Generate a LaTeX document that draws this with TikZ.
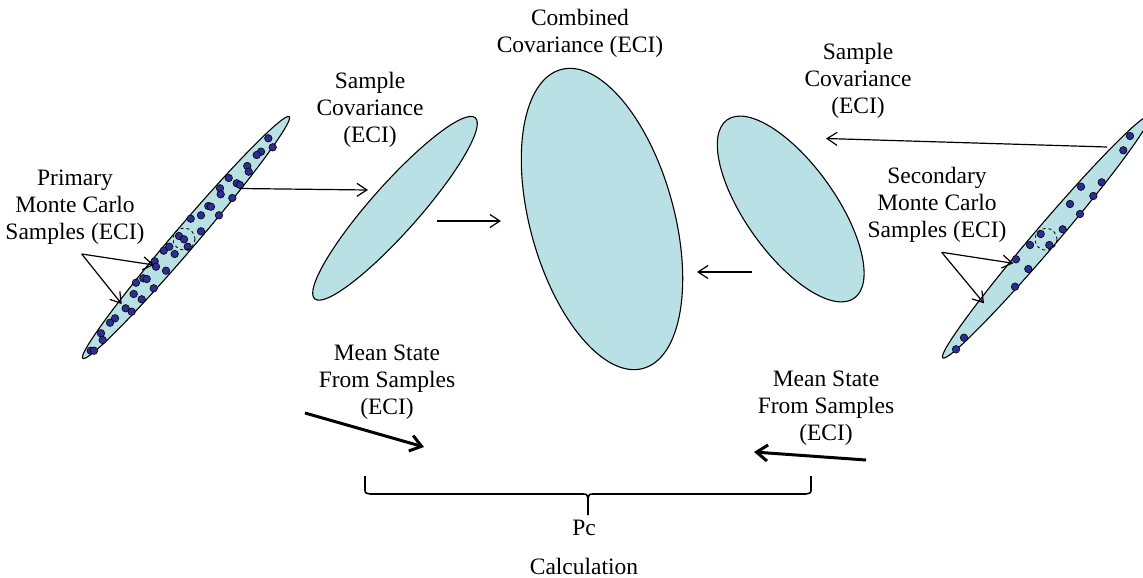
\documentclass[tikz,border=0pt]{standalone}
\usepackage{fontspec}
\setmainfont{Liberation Serif}
\usetikzlibrary{shapes.geometric,arrows.meta}
\definecolor{cfill}{HTML}{B9E0E4}
\definecolor{dotblue}{RGB}{45,45,150}
\tikzset{
  ell/.style={ellipse, draw=black, line width=1.1pt, fill=cfill, inner sep=0pt},
  smp/.style={circle, draw=black, line width=0.6pt, fill=dotblue, inner sep=0pt, minimum size=7.5pt},
  thinarrow/.style={line width=1.2pt, -{Straight Barb[length=10pt,width=13pt]}},
  boldarrow/.style={line width=3pt, -{Straight Barb[length=11pt,width=16pt]}},
  lbl/.style={align=center, font=\fontsize{23.5}{27}\selectfont, inner sep=0pt},
  dcirc/.style={draw=black, dashed, line width=0.8pt}
}
\begin{document}
\begin{tikzpicture}[x=1pt,y=-1pt]
\useasboundingbox (0,0) rectangle (1143,578);
\clip (0,0) rectangle (1143,578);
% ellipses
\node[ell, minimum width=318, minimum height=23, rotate=49.5] (primary) at (186,237.5) {};
\node[ell, minimum width=318, minimum height=23, rotate=49.5] (secondary) at (1046,237) {};
\node[ell, minimum width=242, minimum height=48, rotate=48.4] (scovL) at (395,208.3) {};
\node[ell, minimum width=144, minimum height=310, rotate=15.4] (comb) at (602,219) {};
\node[ell, minimum width=90, minimum height=219, rotate=35.5] (scovR) at (790.7,209) {};
% primary samples
\foreach \x/\y in {268.3/138.3,272.7/147.3,261/151.7,256.7/155,247.3/166,248.7/171.7,228.7/178,220/188.3,220.7/194.3,236.7/183.3,240/185,232.3/198,208.3/206,211/206.7,201/215.3,219/215.3,190.7/218.7,201/231.3,179/236,184/239.3,187.7/246.7,169.3/246.7,163.7/250.7,174.7/254,154.7/261.3,156/266.7,166/270.7,143.3/278.3,146.7/279,136/282.7,153.7/288.3,133.7/294,141.7/299.3,125.7/308.3,131.7/311.7,115/318.3,110/322.7,101/333.3,102.7/340,90.7/350.7,94/350.7}
  \node[smp] at (\x,\y) {};
% secondary samples
\foreach \x/\y in {1130/136,1123.3/150.3,1081/186.7,1101.7/182.3,1093.3/196,1070/204,1080/214,1062.7/229.3,1040.7/234,1049.3/245,1030/245,1016/259.3,1028.3/269,1015/286.7,964/337.7,956/349.3}
  \node[smp] at (\x,\y) {};
% dashed circles
\draw[dcirc] (184,239) circle [radius=11];
\draw[dcirc] (1046,239.3) circle [radius=11];
% labels
\node[lbl] (lprim) at (75,207) {Primary\\Monte Carlo\\Samples (ECI)};
\node[lbl] (lsec) at (937,205) {Secondary\\Monte Carlo\\Samples (ECI)};
\node[lbl] (lscovL) at (370,110) {Sample\\Covariance\\(ECI)};
\node[lbl] (lscovR) at (858,81) {Sample\\Covariance\\(ECI)};
\node[lbl] (lcomb) at (580,33) {Combined\\Covariance (ECI)};
\node[lbl] (lmeanL) at (387,382) {Mean State\\From Samples\\(ECI)};
\node[lbl] (lmeanR) at (826,408) {Mean State\\From Samples\\(ECI)};
\node[lbl] (lpc) at (584,547) {Pc\\[12pt]Calculation};
% connector points
\coordinate (pa) at (81.7,254);
\coordinate (pa1) at (154,265);
\coordinate (pa2) at (121.7,304);
\coordinate (sa) at (941.7,252.3);
\coordinate (sa1) at (1013.3,263.3);
\coordinate (sa2) at (984,303.3);
\coordinate (p1) at (240,188.5);
\coordinate (p2) at (368,190);
\coordinate (c1) at (437,221);
\coordinate (c2) at (501,221);
\coordinate (s1) at (1107,147);
\coordinate (s2) at (826,138.5);
\coordinate (r1) at (752,272);
\coordinate (r2) at (697,272);
\coordinate (mL1) at (305,413);
\coordinate (mL2) at (424,447);
\coordinate (mR1) at (866,460);
\coordinate (mR2) at (754,452);
% arrows
\draw[thinarrow] (pa) -- (pa1);
\draw[thinarrow] (pa) -- (pa2);
\draw[thinarrow] (sa) -- (sa1);
\draw[thinarrow] (sa) -- (sa2);
\draw[thinarrow] (p1) -- (p2);
\draw[thinarrow] (c1) -- (c2);
\draw[thinarrow] (s1) -- (s2);
\draw[thinarrow] (r1) -- (r2);
\draw[boldarrow] (mL1) -- (mL2);
\draw[boldarrow] (mR1) -- (mR2);
% brace
\draw[line width=1.6pt] (365,476) -- (365,489) .. controls (365,493) .. (370,494) -- (582,494) .. controls (587,494) .. (588,499) -- (588,515)
  (588,499) .. controls (589,494) .. (594,494) -- (806,494) .. controls (811,493) .. (811,489) -- (811,476);
\end{tikzpicture}
\end{document}
